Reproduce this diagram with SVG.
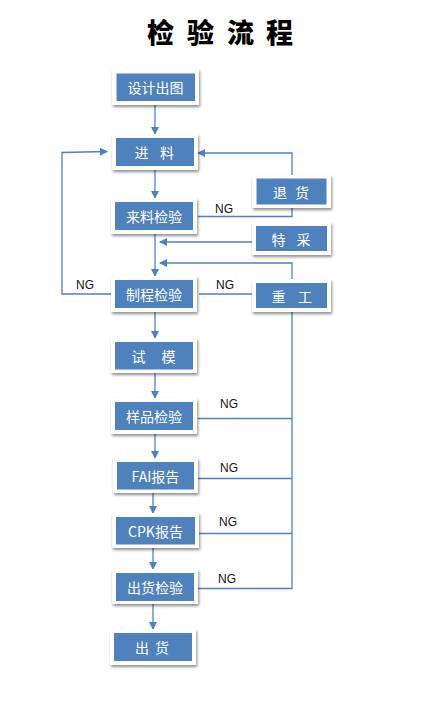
<svg xmlns="http://www.w3.org/2000/svg" width="442" height="702" viewBox="0 0 442 702">
<defs>
<filter id="sh" x="-20%" y="-30%" width="150%" height="170%">
<feGaussianBlur in="SourceAlpha" stdDeviation="1.6"/>
<feOffset dx="1" dy="2" result="b"/>
<feComponentTransfer><feFuncA type="linear" slope="0.45"/></feComponentTransfer>
<feMerge><feMergeNode/><feMergeNode in="SourceGraphic"/></feMerge>
</filter>
<marker id="ar" markerWidth="8" markerHeight="8" refX="7" refY="4" orient="auto" markerUnits="userSpaceOnUse">
<path d="M0,0 L8,4 L0,8 Z" fill="#4f81bd"/>
</marker>
</defs>
<style>
.fr{fill:#fff;filter:url(#sh)}
.bx{fill:#4f81bd}
.t{fill:#fff;font-family:"Noto Sans CJK SC","Noto Sans",sans-serif;font-size:14px;text-anchor:middle;dominant-baseline:central}
.s{fill:#fff;font-family:"Noto Sans CJK SC","Noto Sans",sans-serif;font-size:14px;dominant-baseline:central}
.c{fill:none;stroke:#4f81bd;stroke-width:1.3}
.ng{fill:#111;font-family:"Liberation Sans",Arial,sans-serif;font-size:12px}
.ti{fill:#000;font-family:"Noto Sans CJK SC",serif;font-weight:900;font-size:27px}
</style>
<rect width="442" height="702" fill="#fff"/>
<text class="ti" x="147 187 227 266" y="43">检验流程</text>

<g id="connectors">
<line class="c" x1="155" y1="105" x2="155" y2="134" marker-end="url(#ar)"/>
<line class="c" x1="155" y1="170" x2="155" y2="198" marker-end="url(#ar)"/>
<line class="c" x1="155" y1="234" x2="155" y2="276" marker-end="url(#ar)"/>
<line class="c" x1="155" y1="312" x2="155" y2="338" marker-end="url(#ar)"/>
<line class="c" x1="155" y1="373" x2="155" y2="398" marker-end="url(#ar)"/>
<line class="c" x1="155" y1="434" x2="155" y2="458" marker-end="url(#ar)"/>
<line class="c" x1="153" y1="493" x2="153" y2="513" marker-end="url(#ar)"/>
<line class="c" x1="153" y1="548" x2="153" y2="569" marker-end="url(#ar)"/>
<line class="c" x1="153" y1="604" x2="153" y2="629" marker-end="url(#ar)"/>
<polyline class="c" points="198,216.5 292,216.5 292,153 198,153" marker-end="url(#ar)"/>
<line class="c" x1="252" y1="242" x2="160" y2="242" marker-end="url(#ar)"/>
<polyline class="c" points="292,283 292,263 160,263" marker-end="url(#ar)"/>
<polyline class="c" points="111,294 62,294 62,152.5 107,151.5" marker-end="url(#ar)"/>
<line class="c" x1="199" y1="294" x2="252" y2="294"/>
<polyline class="c" points="292,308 292,588.5 198,588.5"/>
<line class="c" x1="198" y1="418.5" x2="292" y2="418.5"/>
<line class="c" x1="198" y1="478.5" x2="292" y2="478.5"/>
<line class="c" x1="199" y1="533.5" x2="292" y2="533.5"/>
<text class="ng" x="215" y="213">NG</text>
<text class="ng" x="76" y="289">NG</text>
<text class="ng" x="216" y="289">NG</text>
<text class="ng" x="220" y="408">NG</text>
<text class="ng" x="220" y="472">NG</text>
<text class="ng" x="219" y="526">NG</text>
<text class="ng" x="218" y="583">NG</text>
</g>

<g id="n1"><rect class="fr" x="112" y="69" width="87" height="36"/><rect class="bx" x="116.5" y="73.5" width="78.5" height="27.5"/><text class="t" x="155.5" y="87">设计出图</text></g>
<g id="n2"><rect class="fr" x="112" y="134" width="86" height="36"/><rect class="bx" x="116" y="138" width="78" height="28"/><text class="s" x="134.5 160" y="152">进料</text></g>
<g id="n3"><rect class="fr" x="111" y="198" width="86" height="36"/><rect class="bx" x="115" y="202" width="78" height="28"/><text class="t" x="154" y="216">来料检验</text></g>
<g id="n4"><rect class="fr" x="252" y="175" width="79" height="33"/><rect class="bx" x="256.5" y="178.5" width="70" height="26"/><text class="s" x="273 295" y="191.5">退货</text></g>
<g id="n5"><rect class="fr" x="252" y="222" width="79" height="33"/><rect class="bx" x="256" y="226" width="71" height="25"/><text class="s" x="271.5 296.5" y="238.5">特采</text></g>
<g id="n6"><rect class="fr" x="111" y="276" width="86" height="36"/><rect class="bx" x="115" y="280" width="78" height="28"/><text class="t" x="154" y="294">制程检验</text></g>
<g id="n7"><rect class="fr" x="252" y="279" width="79" height="33"/><rect class="bx" x="256" y="283" width="71" height="25"/><text class="s" x="271.5 298" y="295.5">重工</text></g>
<g id="n8"><rect class="fr" x="111" y="338" width="86" height="35"/><rect class="bx" x="115" y="342" width="78" height="27.5"/><text class="s" x="131.5 161.5" y="356">试模</text></g>
<g id="n9"><rect class="fr" x="111" y="398" width="86" height="36"/><rect class="bx" x="115" y="402" width="78" height="28"/><text class="t" x="154" y="416">样品检验</text></g>
<g id="n10"><rect class="fr" x="113" y="458" width="85" height="35"/><rect class="bx" x="117" y="462" width="77" height="27.5"/><text class="t" x="155.5" y="476">FAI报告</text></g>
<g id="n11"><rect class="fr" x="112" y="513" width="87" height="35"/><rect class="bx" x="116" y="517" width="79" height="27.5"/><text class="t" x="155.5" y="531">CPK报告</text></g>
<g id="n12"><rect class="fr" x="112" y="569" width="86" height="35"/><rect class="bx" x="116" y="573" width="78" height="28"/><text class="t" x="155" y="587">出货检验</text></g>
<g id="n13"><rect class="fr" x="110" y="629" width="86" height="36"/><rect class="bx" x="114" y="633" width="78" height="28"/><text class="s" x="135 155" y="647">出货</text></g>
</svg>
